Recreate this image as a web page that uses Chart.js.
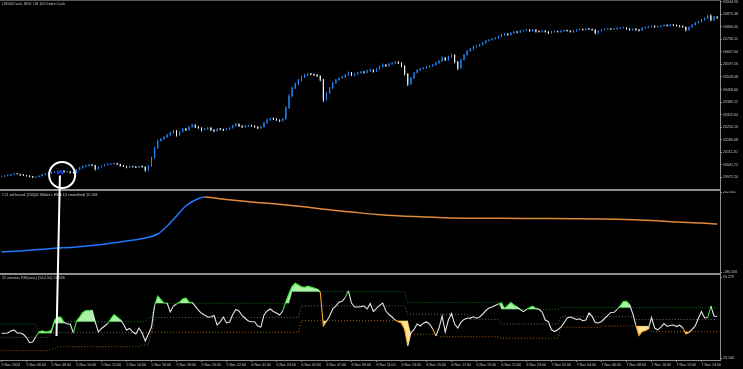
<!DOCTYPE html>
<html><head><meta charset="utf-8">
<script src="https://cdn.jsdelivr.net/npm/chart.js@4.4.1/dist/chart.umd.min.js"></script>
<style>
html,body{margin:0;padding:0;background:#000;overflow:hidden}
#wrap{position:relative;width:743px;height:369px;background:#000}
canvas{position:absolute;left:0}
.sep{position:absolute;left:0;width:721px;background:#8f8f8f}
</style></head>
<body><div id="wrap">
<canvas id="cp" width="743" height="189" style="top:0"></canvas>
<div class="sep" style="top:189px;height:2px"></div>
<canvas id="cc" width="743" height="82" style="top:191px"></canvas>
<div class="sep" style="top:273px;height:2px"></div>
<canvas id="cr" width="743" height="94" style="top:275px"></canvas>
<div class="sep" style="top:0;height:1px;background:#5a5a5a"></div>
<canvas id="ov" width="743" height="369" style="top:0;pointer-events:none"></canvas>
</div>
<script>
// ---------- DATA ----------
const timeLabels = ['5 Nov 2024','5 Nov 06:00','5 Nov 08:00','5 Nov 10:00','5 Nov 12:00','5 Nov 14:00','5 Nov 16:00','5 Nov 18:00','5 Nov 20:00','5 Nov 22:00','6 Nov 01:00','6 Nov 03:00','6 Nov 05:00','6 Nov 07:00','6 Nov 09:00','6 Nov 11:00','6 Nov 13:00','6 Nov 15:00','6 Nov 17:00','6 Nov 19:00','6 Nov 21:00','6 Nov 23:00','7 Nov 02:00','7 Nov 04:00','7 Nov 06:00','7 Nov 08:00','7 Nov 10:00','7 Nov 12:00','7 Nov 14:00'];
const barsPerLabel = 8;
const priceTicks = [20944.96,20875.48,20806.00,20736.52,20667.04,20597.56,20528.08,20458.60,20389.12,20319.64,20250.16,20180.68,20111.20,20041.72,19972.24];
const cciTicks = [242.601,-186.506];
const rsiTicks = [90.279,23.146];

const firstOpen = 19976;
const closes = [
19977,19980,19983,19988,19991,19990,19985,19983,19980,19977,
19972,19974,19980,19988,19991,19994,19999,20002,20005,20008,
20002,20005,19999,19997,20013,20024,20033,20035,20041,20038,
20019,20030,20035,20041,20044,20046,20049,20044,20035,20033,
20027,20033,20030,20027,20033,20030,20013,20035,20080,20135,
20174,20185,20196,20207,20218,20229,20207,20224,20240,20235,
20251,20262,20251,20246,20235,20240,20246,20235,20229,20240,
20238,20235,20240,20246,20257,20268,20257,20251,20257,20260,
20257,20251,20246,20251,20274,20290,20298,20296,20290,20285,
20296,20357,20423,20467,20490,20512,20528,20539,20545,20542,
20539,20534,20512,20406,20440,20467,20495,20512,20523,20528,
20539,20551,20539,20545,20551,20556,20553,20562,20567,20559,
20573,20584,20595,20589,20600,20606,20611,20606,20589,20545,
20490,20523,20551,20567,20573,20578,20584,20589,20595,20606,
20617,20634,20623,20639,20650,20611,20578,20623,20650,20672,
20684,20695,20700,20706,20717,20728,20733,20739,20744,20750,
20761,20767,20761,20772,20778,20775,20783,20786,20789,20783,
20789,20780,20778,20783,20778,20772,20778,20780,20778,20783,
20786,20783,20778,20783,20789,20792,20789,20794,20792,20789,
20772,20783,20789,20792,20794,20792,20794,20797,20800,20801,
20794,20789,20794,20789,20786,20800,20803,20805,20811,20805,
20808,20811,20814,20811,20816,20814,20811,20808,20805,20789,
20805,20816,20828,20833,20844,20852,20866,20844,20861,20855];
const wickUp = [
3,2,4,3,2,3,2,3,2,2, 3,2,4,3,2,3,4,3,3,5, 3,4,2,3,4,5,3,4,5,3, 4,3,3,4,5,3,4,3,3,2,
3,4,2,3,3,4,3,5,6,8, 7,5,4,6,5,6,5,4,6,5, 6,7,4,5,3,6,4,5,3,6, 4,3,5,4,6,7,3,4,5,3,
4,3,4,5,6,7,5,4,4,3, 5,8,9,8,7,6,5,6,4,5, 4,5,3,6,5,6,7,5,4,5, 6,7,4,5,6,5,4,6,7,4,
5,6,7,5,6,5,6,4,3,4, 5,6,5,4,5,4,5,4,5,6, 5,7,4,6,7,4,5,6,5,6, 5,6,4,5,6,5,4,5,4,6,
5,4,3,5,4,3,5,4,5,3, 4,3,4,3,4,3,4,5,3,4, 4,3,4,5,4,5,3,5,4,3, 3,4,3,4,5,3,4,5,4,3,
3,4,3,4,5,4,3,5,4,3, 4,3,5,4,5,3,4,3,4,3, 4,5,4,5,6,5,7,8,5,4];
const wickDn = [
2,3,2,3,3,2,4,3,3,4, 3,4,2,3,3,2,3,4,3,4, 4,3,5,3,3,2,4,3,3,4, 9,4,3,3,2,4,3,4,3,4,
4,3,4,3,4,3,10,5,4,3, 5,4,5,6,4,5,9,5,4,6, 5,4,6,5,7,4,5,6,7,5, 5,6,4,5,4,3,6,5,4,5,
5,4,6,5,4,5,4,6,5,6, 4,5,6,7,5,6,7,5,6,5, 6,5,7,15,8,6,5,6,5,4, 5,4,6,5,4,5,6,4,5,6,
4,5,4,6,5,4,5,6,7,9, 12,6,5,4,5,4,5,4,5,4, 5,4,6,5,4,7,12,5,4,5, 4,5,4,5,4,5,4,3,4,5,
4,5,4,3,4,5,4,3,4,5, 4,5,4,3,4,6,4,3,4,5, 4,3,4,5,4,3,4,3,4,5, 7,4,3,4,3,4,3,4,3,4,
4,5,4,5,6,4,3,4,3,4, 3,4,3,4,3,4,3,4,5,9, 5,4,3,4,3,4,3,7,5,4];

const cciBars = [0,8,16,24,32,40,46,50,53,56,59,62,65,68,72,80,88,96,104,112,120,128,136,144,152,160,168,176,184,192,200,208,216,224,229];
const cciVals = [-77.6,-69.6,-58.9,-50.8,-37.4,-18.6,-2.5,18.9,61.8,115.5,169.1,201.3,217.4,212.0,204.0,190.6,179.9,166.4,150.3,136.9,123.5,115.5,110.1,105.2,103.8,102.9,102.2,101.5,100.6,99.4,96.7,91.4,83.3,78.0,72.6];

const rsiVals = [
43.6,43.6,43.9,45.5,46.4,43.9,43.9,42.8,40.1,35.8, 36.4,41.0,44.7,45.7,44.9,44.9,46.4,54.6,57.1,57.1,
52.8,51.3,51.3,43.9,53.8,57.1,60.9,62.5,62.5,62.8, 53.0,44.7,47.6,49.7,51.7,55.7,59.2,57.1,55.0,51.3,
46.4,47.6,44.7,43.0,48.0,43.9,37.2,43.0,48.8,66.7, 74.5,71.6,68.7,68.7,61.3,66.2,67.9,69.6,72.1,72.9,
69.6,69.2,66.2,62.9,60.2,58.8,57.1,57.1,58.4,50.5, 53.0,57.1,52.2,53.0,59.2,63.4,62.1,58.4,55.9,53.8,
53.2,53.2,49.7,48.8,58.8,62.1,63.8,61.7,60.4,58.8, 62.1,70.0,76.6,82.6,85.1,83.7,82.2,81.8,82.7,82.0,
81.2,80.3,77.9,49.7,53.4,58.0,63.8,66.2,69.4,70.2, 73.3,78.8,68.7,65.4,65.4,65.7,66.2,63.8,68.3,61.7,
64.2,66.8,68.7,62.1,59.2,57.1,54.6,53.2,52.0,46.8, 33.1,43.9,46.8,51.3,49.7,52.0,53.0,51.3,47.2,41.5,
48.0,58.0,44.7,54.6,60.0,51.3,48.0,52.6,55.1,56.1, 56.2,57.3,56.1,57.1,59.6,62.5,64.6,65.4,66.7,67.9,
69.0,64.2,66.7,69.2,67.1,65.4,63.4,61.6,63.4,65.0, 66.1,64.2,63.5,61.3,54.6,53.2,46.5,45.1,46.6,48.8,
52.2,56.3,57.1,56.1,55.1,55.6,54.0,54.6,60.4,57.6, 52.6,52.2,53.4,55.9,58.5,60.9,61.0,63.4,66.5,70.0,
70.2,67.5,60.0,50.1,41.8,45.1,45.7,47.2,56.7,48.0, 46.5,48.8,51.7,49.3,50.1,50.5,49.2,50.3,48.2,43.0,
44.3,46.8,49.7,56.1,61.6,56.3,56.7,66.2,58.0,57.6];
// step levels: [first bar, level]
const rsiUpperSteps = [[0,51.3],[12,43.6],[17,51.9],[21,53.2],[47,56.6],[49,68.5],[93,78.1],[130,69.2],[160,63.5],[179,64.85]];
const rsiMidSteps   = [[0,40.3],[16,44.1],[49,56.6],[96,66.3],[130,59.4],[150,55.2],[160,51.3],[179,57.4],[203,55.1]];
const rsiLowerSteps = [[0,29.2],[16,30.6],[18,32.5],[45,33.9],[48,44.5],[96,54.1],[131,42.8],[140,40.8],[160,39.5],[179,48.6],[192,49.7],[208,45.0]];

// annotation (hand-drawn mark) in data units
const markCircle = {bar:19.4, price:19985};
const markLine = {fromBar:18.7, fromPrice:19982, toBar:17.6, toRsi:41.4};
const markArrow = {bar:18.8, tipPrice:20007, basePrice:19990};

const titles = ['US100Cash, M15: US 100 Index Cash','CCI std based (200)(& Wilder\'s EMA 14 smoothed) 55.084','15 minutes RSI(sma) (14,0.50) 57.636'];

// ---------- BUILD ----------
const N = closes.length;
const opens = closes.map((c,i)=> i===0 ? firstOpen : closes[i-1]);
const highs = closes.map((c,i)=> Math.max(opens[i],c) + wickUp[i]);
const lows  = closes.map((c,i)=> Math.min(opens[i],c) - wickDn[i]);
function expandSteps(st){ const a=[]; for(let i=0;i<N;i++){ let v=st[0][1]; for(const s of st){ if(i>=s[0]) v=s[1]; } a.push(v);} return a; }
const rsiUpper = expandSteps(rsiUpperSteps), rsiMid = expandSteps(rsiMidSteps), rsiLower = expandSteps(rsiLowerSteps);

// region between RSI and a band where RSI is beyond it (above=true: RSI over band)
function fillPair(r, b, above){
  const top=[], base=[];
  for(let i=0;i<N;i++){
    const d = above ? r[i]-b[i] : b[i]-r[i];
    top.push({x:i, y: d>0 ? r[i] : b[i]}); base.push({x:i, y:b[i]});
    if(i<N-1){
      const d2 = above ? r[i+1]-b[i+1] : b[i+1]-r[i+1];
      if(d*d2<0){ const t=d/(d-d2); const y=r[i]+t*(r[i+1]-r[i]); top.push({x:i+t,y}); base.push({x:i+t,y}); }
    }
  }
  return {top, base};
}
const upFill = fillPair(rsiVals, rsiUpper, true);
const loFill = fillPair(rsiVals, rsiLower, false);

const BULL='#1e8cff', BEAR='#f2f2f2', AX='#8f8f8f', TXT='#c4c4c4';
const FONT = 'Liberation Sans';
const XMIN=-0.48, XMAX=229.92;

function titlePlugin(text,y){ return {id:'ttl', afterDraw(ch){ const c=ch.ctx; c.save(); c.font='3.7px "'+FONT+'"'; c.fillStyle=TXT; c.textBaseline='middle'; c.textAlign='left'; c.fillText(text,2,y); c.restore(); }}; }

function yAxis(min,max,ticks,dec){
  return {position:'right', min, max,
    afterFit(s){ s.width=23; s.paddingTop=0; s.paddingBottom=0; },
    afterBuildTicks(s){ s.ticks = ticks.map(v=>({value:v})); },
    ticks:{color:TXT, font:{size:3.6,family:FONT}, padding:1, autoSkip:false, callback:v=>Number(v).toFixed(dec)},
    grid:{drawOnChartArea:false, color:AX, tickLength:2, lineWidth:1},
    border:{display:true,color:AX,width:1}};
}
function baseOpts(scales){
  return {responsive:false, animation:false, events:[], layout:{padding:0},
    plugins:{legend:{display:false}, tooltip:{enabled:false}}, scales};
}
const xHidden = () => ({type:'linear', min:XMIN, max:XMAX, offset:false, grid:{offset:false}, display:false});

// price chart
const candleColor = c => closes[c.dataIndex] >= opens[c.dataIndex] ? BULL : BEAR;
const priceChart = new Chart(document.getElementById('cp'), {
  type:'bar',
  data:{datasets:[
    {data: closes.map((c,i)=>({x:i, y:[opens[i],c]})), backgroundColor:candleColor, borderWidth:0, grouped:false, barThickness:1, maxBarThickness:2.2, minBarLength:1, inflateAmount:0},
    {data: closes.map((c,i)=>({x:i, y:[lows[i],highs[i]]})), backgroundColor:candleColor, borderWidth:0, grouped:false, barThickness:1, maxBarThickness:1, inflateAmount:0}
  ]},
  options: baseOpts({x:xHidden(), y:yAxis(19907.5,20954.4,priceTicks,2)}),
  plugins:[titlePlugin(titles[0],3.5)]
});

// CCI chart
const cciChart = new Chart(document.getElementById('cc'), {
  type:'line',
  data:{datasets:[{data: cciBars.map((b,k)=>({x:b,y:cciVals[k]})), borderWidth:1.5, pointRadius:0, cubicInterpolationMode:'monotone',
    borderColor:'#e08a3c',
    segment:{borderColor: c => c.p1.parsed.y >= c.p0.parsed.y ? '#1f78ff' : '#e08a3c'}}]},
  options: baseOpts({x:xHidden(), y:yAxis(-190.26,249.58,cciTicks,3)}),
  plugins:[titlePlugin(titles[1],3.7)]
});

// RSI chart
const GREEN='#3ee03e', ORANGE='#f3a322', WHITE='#e4e4e4';
const hid = {borderWidth:0, pointRadius:0, tension:0, borderColor:'rgba(0,0,0,0)'};
const rsiChart = new Chart(document.getElementById('cr'), {
  type:'line',
  data:{datasets:[
    {data: rsiVals.map((v,i)=>({x:i,y:v})), borderColor:WHITE, borderWidth:1.1, pointRadius:0, tension:0, fill:false,
      segment:{borderColor: c => { const i=c.p1DataIndex, v=c.p1.parsed.y; return v>rsiUpper[i] ? GREEN : (v<rsiLower[i] ? ORANGE : WHITE); }}},
    {data: rsiUpper.map((v,i)=>({x:i,y:v})), borderColor:'#1a7a1a', borderWidth:1, borderDash:[1,2], pointRadius:0, fill:false},
    {data: rsiMid.map((v,i)=>({x:i,y:v})), borderColor:'#6a6a6a', borderWidth:1, borderDash:[1,2], pointRadius:0, fill:false},
    {data: rsiLower.map((v,i)=>({x:i,y:v})), borderColor:'#a06010', borderWidth:1, borderDash:[1,2], pointRadius:0, fill:false},
    Object.assign({data: upFill.top, fill:{target:5}, backgroundColor:'#a9f2a4'}, hid),
    Object.assign({data: upFill.base, fill:false}, hid),
    Object.assign({data: loFill.top, fill:{target:7}, backgroundColor:'#ffe48e'}, hid),
    Object.assign({data: loFill.base, fill:false}, hid)
  ]},
  options: baseOpts({
    x:{type:'linear', min:XMIN, max:XMAX, position:'bottom', offset:false,
      afterFit(s){ s.height=9; s.paddingLeft=0; s.paddingRight=0; },
      afterBuildTicks(s){ s.ticks = timeLabels.map((t,k)=>({value:k*barsPerLabel})); },
      ticks:{color:TXT, font:{size:3.6,family:FONT}, padding:1, align:'start', autoSkip:false, maxRotation:0, minRotation:0,
        callback:(v,idx)=>timeLabels[idx]},
      grid:{drawOnChartArea:false, color:AX, tickLength:2}, border:{display:true,color:AX,width:1}},
    y: yAxis(21.49,91.94,rsiTicks,3)}),
  plugins:[titlePlugin(titles[2],2.7)]
});

// overlay mark (circle + line + arrow) placed through the charts' scales
function drawMark(){
  const ov = document.getElementById('ov').getContext('2d');
  ov.clearRect(0,0,743,369);
  const px = priceChart.scales.x, py = priceChart.scales.y;
  const rx = rsiChart.scales.x, ry = rsiChart.scales.y;
  const rTop = 275;
  ov.strokeStyle='#ffffff'; ov.lineWidth=2;
  ov.beginPath();
  ov.moveTo(px.getPixelForValue(markLine.fromBar), py.getPixelForValue(markLine.fromPrice));
  ov.lineTo(rx.getPixelForValue(markLine.toBar), rTop + ry.getPixelForValue(markLine.toRsi));
  ov.stroke();
  ov.beginPath();
  ov.arc(px.getPixelForValue(markCircle.bar), py.getPixelForValue(markCircle.price), 13, 0, Math.PI*2);
  ov.stroke();
  const ax = px.getPixelForValue(markArrow.bar), at = py.getPixelForValue(markArrow.tipPrice), ab = py.getPixelForValue(markArrow.basePrice);
  ov.strokeStyle='#1530ff'; ov.lineWidth=1.5;
  ov.beginPath(); ov.moveTo(ax-3, ab); ov.lineTo(ax, at); ov.lineTo(ax+3, ab); ov.stroke();
}
drawMark();
</script>
</body></html>
